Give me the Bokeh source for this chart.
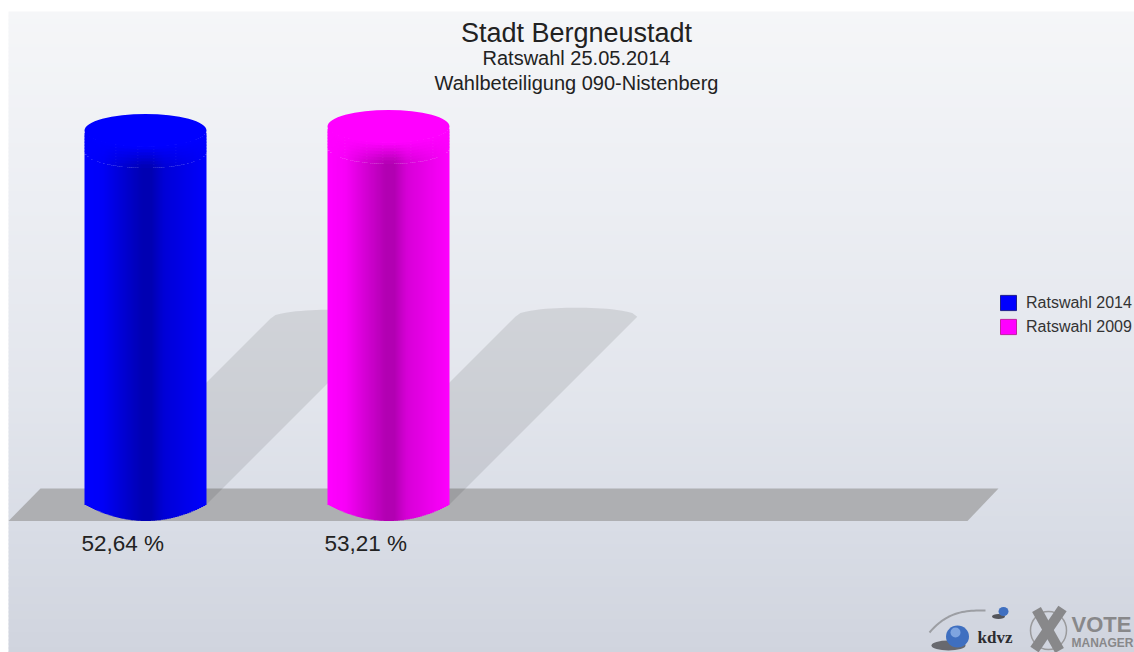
from math import sqrt, nan
from bokeh.plotting import figure
from bokeh.models import Range1d, Legend, LegendItem
from bokeh.core.properties import value
from bokeh.embed import file_html
from bokeh.resources import INLINE

# ---- data
series = ["Ratswahl 2014", "Ratswahl 2009"]
values = [52.64, 53.21]
value_labels = ["52,64 %", "53,21 %"]
bar_colors = [(0, 0, 255), (255, 0, 255)]
title = "Stadt Bergneustadt"
subtitle1 = "Ratswahl 25.05.2014"
subtitle2 = "Wahlbeteiligung 090-Nistenberg"

# ---- layout (pixels of the page -> data scales)
W, H = 1134, 652
BG_LEFT, BG_TOP = 8, 11
PX_PER_UNIT = 7.105
BASE_PY = 504
SLOT_PX = 243
FIRST_PX = 145
RADIUS = 61
RY = 16.5
SH = 3.53     # shadow length, px per value unit
FONT = "Liberation Sans"


def fx(px):
    return (px - FIRST_PX) / SLOT_PX


def fy(py):
    return (BASE_PY - py) / PX_PER_UNIT


p = figure(width=W, height=H, output_backend="svg", toolbar_location=None,
           x_range=Range1d(fx(0), fx(W)),
           y_range=Range1d(fy(H), fy(0)),
           min_border=0, outline_line_color=None, background_fill_color="#ffffff",
           border_fill_color=None)
p.axis.visible = False
p.grid.visible = False


def lerp(stops, t):
    for (a, ca), (b, cb) in zip(stops, stops[1:]):
        if t <= b:
            f = (t - a) / (b - a)
            return tuple(ca[i] + (cb[i] - ca[i]) * f for i in range(len(ca)))
    return stops[-1][1]


def hexc(c):
    return "#%02x%02x%02x" % tuple(int(round(v)) for v in c)


# background
bg_stops = [(8, (245, 246, 248)), (200, (236, 238, 243)), (400, (226, 229, 236)),
            (520, (217, 221, 230)), (652, (208, 212, 222))]
bl, br, bt, bb, bc = [], [], [], [], []
for py in range(BG_TOP, H, 4):
    bl.append(fx(BG_LEFT)); br.append(fx(W))
    bt.append(fy(py)); bb.append(fy(min(py + 5, H)))
    bc.append(hexc(lerp(bg_stops, py)))
p.quad(left=bl, right=br, top=bt, bottom=bb, fill_color=bc, line_color=None)

# floor
p.patch([fx(8), fx(40), fx(998), fx(967)], [fy(520.5), fy(488), fy(488), fy(520.5)],
        fill_color="#aeafb2", line_color=None)

# shadows
for i, v in enumerate(values):
    cx = i + 0.0
    d = v * SH
    rx = RADIUS / SLOT_PX
    dxu = d / SLOT_PX
    yb = 0.0
    ytop = v * SH / PX_PER_UNIT
    xs, ys = [cx - rx], [yb]
    n = 24
    for k in range(n + 1):
        t = -1 + 2 * k / n
        xs.append(cx + dxu + rx * t)
        ys.append(ytop + (9 / PX_PER_UNIT) * sqrt(max(0, 1 - t * t)))
    xs.append(cx + rx)
    ys.append(yb)
    p.patch(xs, ys, fill_color="#000000", fill_alpha=0.095, line_color=None)

# cylinders
shade = [(-1.0, (1.0,)), (-0.7, (0.97,)), (-0.4, (0.84,)), (-0.05, (0.70,)), (0.1, (0.70,)),
         (0.3, (0.84,)), (0.65, (0.92,)), (0.9, (0.97,)), (1.0, (1.0,))]
STEP = 2
FADE_STEPS = 7
FADE_PX = 3
OVER = 0.7
for i, (v, col) in enumerate(zip(values, bar_colors)):
    ql, qr, qt, qb, qc = [], [], [], [], []
    ry = RY / PX_PER_UNIT
    for k in range(-RADIUS, RADIUS, STEP):
        t = (k + STEP / 2) / RADIUS
        f = lerp(shade, t)[0]
        body = tuple(c * f for c in col)
        xl = i + k / SLOT_PX
        xr = i + min(k + STEP + OVER, RADIUS) / SLOT_PX
        low = -ry * (1 - t * t)
        front = v - ry * sqrt(1 - t * t)
        step = FADE_PX / PX_PER_UNIT
        ql.append(xl); qr.append(xr); qt.append(front - FADE_STEPS * step); qb.append(low)
        qc.append(hexc(body))
        for s in range(FADE_STEPS):
            m = (s + 0.5) / FADE_STEPS
            c = tuple(col[j] + (body[j] - col[j]) * m for j in range(3))
            ql.append(xl); qr.append(xr)
            qt.append(front - s * step + OVER / PX_PER_UNIT); qb.append(front - (s + 1) * step)
            qc.append(hexc(c))
    p.quad(left=ql, right=qr, top=qt, bottom=qb, fill_color=qc, line_color=None)
    p.ellipse(x=[i], y=[v], width=2 * RADIUS / SLOT_PX, height=2 * ry,
              fill_color=hexc(col), line_color=None)
    # value label under the cylinder
    p.text(x=[i - RADIUS / SLOT_PX - 3 / SLOT_PX], y=[fy(543)], text=[value_labels[i]],
           text_font=value(FONT), text_font_size="22.5px", text_color="#222222",
           text_align="left", text_baseline="middle")

# titles
for txt, py, size in ((title, 32, "27px"), (subtitle1, 57.5, "20px"), (subtitle2, 82, "20px")):
    p.text(x=[fx(576)], y=[fy(py)], text=[txt], text_font=value(FONT), text_font_size=size,
           text_color="#222222", text_align="center", text_baseline="middle")

# legend
items = []
for name, col, edge in zip(series, bar_colors, ("#20208a", "#c020a0")):
    r = p.quad(left=[nan], right=[nan], top=[nan], bottom=[nan], fill_color=hexc(col), line_color=edge)
    items.append(LegendItem(label=name, renderers=[r]))
leg = Legend(items=items, location=(998, H - 336), orientation="vertical",
             background_fill_alpha=0, border_line_color=None, margin=0, padding=0,
             glyph_width=20, glyph_height=19, label_height=19, spacing=5, label_standoff=8,
             label_text_font=FONT, label_text_font_size="16px", label_text_color="#333333")
p.add_layout(leg, "center")

# logo
ax, ay = [], []
for k in range(25):
    t = k / 24
    ax.append(fx(985 - 56 * t))
    ay.append(fy(610 + 22 * t * t * t))
p.line(ax, ay, line_color="#8e9093", line_width=2, line_alpha=0.8)
p.ellipse(x=[fx(948)], y=[fy(645)], width=34 / SLOT_PX, height=10 / PX_PER_UNIT,
          fill_color="#44444a", fill_alpha=0.75, line_color=None)
p.ellipse(x=[fx(957)], y=[fy(636)], width=23 / SLOT_PX, height=22 / PX_PER_UNIT,
          fill_color="#3f6fc0", line_color=None)
p.ellipse(x=[fx(955)], y=[fy(632)], width=10 / SLOT_PX, height=10 / PX_PER_UNIT,
          fill_color="#7ea4e0", line_color=None)
p.ellipse(x=[fx(998)], y=[fy(616)], width=13 / SLOT_PX, height=5 / PX_PER_UNIT,
          fill_color="#333338", fill_alpha=0.8, line_color=None)
p.ellipse(x=[fx(1003)], y=[fy(611)], width=10 / SLOT_PX, height=9 / PX_PER_UNIT,
          fill_color="#3f6fc0", line_color=None)
p.text(x=[fx(977)], y=[fy(637)], text=["kdvz"], text_font=value("Liberation Serif"),
       text_font_size="17px", text_font_style="bold", text_color="#2c2c30",
       text_align="left", text_baseline="middle")
p.ellipse(x=[fx(1048)], y=[fy(630)], width=36 / SLOT_PX, height=38 / PX_PER_UNIT,
          fill_color=None, line_color="#9a9a9c", line_width=1.5)
p.segment(x0=[fx(1036), fx(1062)], y0=[fy(609), fy(608)], x1=[fx(1059), fx(1034)], y1=[fy(650), fy(649)],
          line_color="#88888a", line_width=10)
p.text(x=[fx(1071)], y=[fy(624)], text=["VOTE"], text_font=value(FONT), text_font_size="22px",
       text_font_style="bold", text_color="#88888a", text_align="left", text_baseline="middle")
p.text(x=[fx(1071)], y=[fy(642)], text=["MANAGER"], text_font=value(FONT), text_font_size="12px",
       text_font_style="bold", text_color="#88888a", text_align="left", text_baseline="middle")

open("out.html", "w").write(file_html(p, INLINE))
